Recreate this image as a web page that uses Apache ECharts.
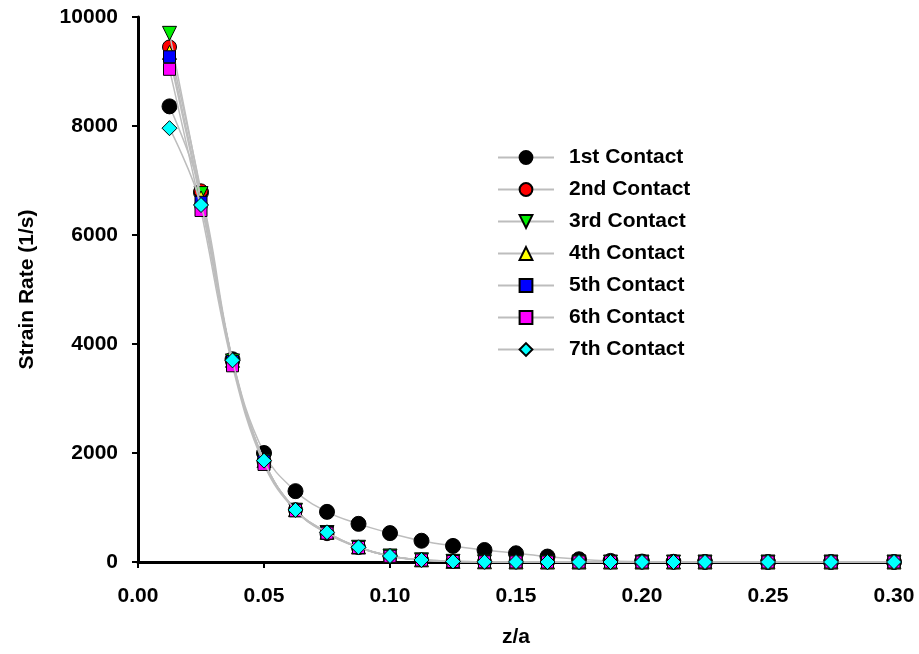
<!DOCTYPE html>
<html>
<head>
<meta charset="utf-8">
<script src="https://cdn.jsdelivr.net/npm/echarts@6/dist/echarts.min.js"></script>
<style>
html,body{margin:0;padding:0;background:#fff;}
#chart{width:919px;height:654px;}
</style>
</head>
<body>
<div id="chart"></div>
<script>
var xValues = [0.0125,0.025,0.0375,0.05,0.0625,0.075,0.0875,0.1,0.1125,0.125,0.1375,0.15,0.1625,0.175,0.1875,0.2,0.2125,0.225,0.25,0.275,0.3];
var contact1 = [8360,6780,3720,2000,1300,920,700,530,390,295,220,160,100,50,20,8,4,2,0,0,0];
var contact2 = [9450,6810,3680,1850,960,520,265,110,40,12,4,1,0,0,0,0,0,0,0,0,0];
var contact3 = [9700,6760,3690,1850,950,540,270,110,40,12,4,1,0,0,0,0,0,0,0,0,0];
var contact4 = [9350,6680,3700,1860,960,545,275,110,40,12,4,1,0,0,0,0,0,0,0,0,0];
var contact5 = [9270,6600,3680,1850,955,540,270,108,38,11,3,1,0,0,0,0,0,0,0,0,0];
var contact6 = [9040,6450,3600,1790,940,530,265,105,36,10,3,1,0,0,0,0,0,0,0,0,0];
var contact7 = [7960,6550,3700,1860,955,545,270,110,37,10,3,1,0,0,0,0,0,0,0,0,0];
var seriesNames = ['1st Contact','2nd Contact','3rd Contact','4th Contact','5th Contact','6th Contact','7th Contact'];
var xTickLabels = ['0.00','0.05','0.10','0.15','0.20','0.25','0.30'];
var yTickLabels = ['0','2000','4000','6000','8000','10000'];

var seriesValues = [contact1,contact2,contact3,contact4,contact5,contact6,contact7];
var colors = ['#000000','#ff0000','#00ee00','#ffff00','#0000ff','#ff00ff','#00ffff'];
var symbols = ['circle','circle','triangle','triangle','rect','rect','diamond'];
var rotates = [0,0,180,0,0,0,0];
var sizes = [15,14,14,14,12,12,15];

var font = '"Liberation Sans", Arial, sans-serif';
var chart = echarts.init(document.getElementById('chart'));
var series = seriesValues.map(function(vals, i){
  return {
    name: seriesNames[i],
    type: 'line',
    data: xValues.map(function(x, j){ return [x, vals[j]]; }),
    smooth: 0.4,
    symbol: symbols[i],
    symbolSize: sizes[i],
    symbolRotate: rotates[i],
    showAllSymbol: true,
    lineStyle: {color: '#bdbdbd', width: 1.5},
    itemStyle: {color: colors[i], borderColor: '#000', borderWidth: 1},
    emphasis: {disabled: true},
    z: 2 + i
  };
});

chart.setOption({
  animation: false,
  backgroundColor: '#fff',
  grid: {left: 138, right: 25, top: 17, bottom: 92},
  legend: {
    orient: 'vertical',
    left: 492,
    top: 142,
    itemWidth: 56,
    itemHeight: 16,
    itemGap: 11,
    data: seriesNames,
    textStyle: {fontFamily: font, fontWeight: 'bold', fontSize: 21, color: '#000', lineHeight: 21, padding: [0,0,0,10]}
  },
  xAxis: {
    type: 'value',
    min: 0, max: 0.3, interval: 0.05,
    name: 'z/a', nameLocation: 'middle', nameGap: 65,
    nameTextStyle: {fontFamily: font, fontWeight: 'bold', fontSize: 21, color: '#000'},
    axisLine: {show: true, lineStyle: {color: '#000', width: 3}},
    axisTick: {show: true, length: 6, lineStyle: {color: '#000', width: 2}},
    axisLabel: {fontFamily: font, fontWeight: 'bold', fontSize: 21, color: '#000', margin: 24,
      formatter: function(v){ var i = Math.round(v/0.05); return xTickLabels[i] !== undefined ? xTickLabels[i] : ''; }},
    splitLine: {show: false}
  },
  yAxis: {
    type: 'value',
    min: 0, max: 10000, interval: 2000,
    name: 'Strain Rate (1/s)', nameLocation: 'middle', nameGap: 100,
    nameTextStyle: {fontFamily: font, fontWeight: 'bold', fontSize: 21, color: '#000'},
    axisLine: {show: true, lineStyle: {color: '#000', width: 3}},
    axisTick: {show: true, length: 6, lineStyle: {color: '#000', width: 2}},
    axisLabel: {fontFamily: font, fontWeight: 'bold', fontSize: 21, color: '#000', margin: 20,
      formatter: function(v){ var i = Math.round(v/2000); return yTickLabels[i] !== undefined ? yTickLabels[i] : ''; }},
    splitLine: {show: false}
  },
  series: series
});
</script>
</body>
</html>
